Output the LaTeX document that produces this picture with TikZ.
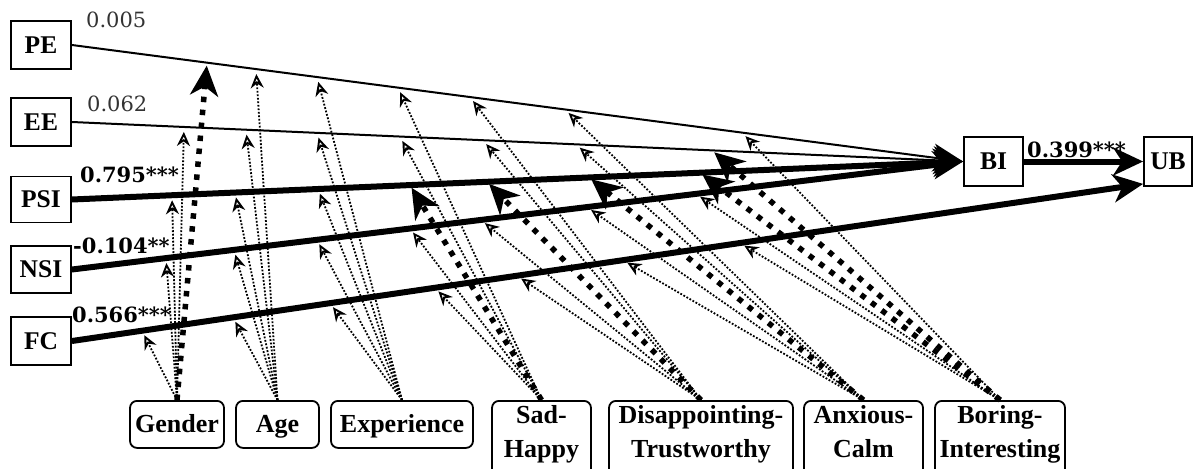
\documentclass[tikz,border=0pt]{standalone}
\usepackage{fontspec}
\setmainfont{Liberation Serif}
\newfontfamily\numfont{DejaVu Serif}
\usetikzlibrary{arrows.meta,calc}
\begin{document}
\begin{tikzpicture}[x=1pt,y=-1pt,
  box/.style={draw,fill=white,line width=1.8pt,inner sep=0pt,font=\bfseries\fontsize{25.5}{30}\selectfont},
  modbox/.style={draw,fill=white,line width=1.8pt,rounded corners=7pt,inner xsep=0pt,anchor=north,align=center,font=\bfseries\fontsize{26}{34}\selectfont},
  onebox/.style={modbox,inner ysep=11.5pt,text height=20pt,text depth=4pt},
  twobox/.style={modbox,inner ysep=5pt,text depth=55pt},
  mainthin/.style={line width=2pt,-{Stealth[length=30pt,width=28pt,inset=9pt]}},
  mainthick/.style={line width=6pt,-{Stealth[length=30pt,width=28pt,inset=9pt]}},
  modthin/.style={line width=1.8pt,dash pattern=on 1.8pt off 1.7pt,-{Stealth[open,length=14pt,width=13pt,inset=4.5pt,line width=1.9pt]},shorten >=5pt},
  modthick/.style={line width=5.5pt,dash pattern=on 5.5pt off 7.5pt,-{Stealth[length=30pt,width=28pt,inset=9pt]},shorten >=3pt},
  coef/.style={anchor=base west,inner sep=0pt,text=black!80,font=\numfont\fontsize{21}{24}\selectfont},
  coefb/.style={anchor=base west,inner sep=0pt,font=\numfont\bfseries\fontsize{21}{24}\selectfont},
]
\useasboundingbox (0,0) rectangle (1198,468);
\clip (0,0) rectangle (1198,468);

% construct boxes
\node[box,minimum width=60pt,minimum height=48pt] (PE) at (41,45) {PE};
\node[box,minimum width=60pt,minimum height=48pt] (EE) at (41,122) {EE};
\node[box,minimum width=60pt,minimum height=46pt] (PSI) at (41,199.5) {PSI};
\node[box,minimum width=60pt,minimum height=47pt] (NSI) at (41,269.5) {NSI};
\node[box,minimum width=60pt,minimum height=48pt] (FC) at (41,341) {FC};
\node[box,minimum width=59pt,minimum height=49pt] (BI) at (993.5,161.5) {BI};
\node[box,minimum width=48pt,minimum height=49pt] (UB) at (1168,161.5) {UB};

% moderator boxes
\node[onebox,minimum width=94pt] (Gender) at (177,400) {Gender};
\node[onebox,minimum width=83pt] (Age) at (277.5,400) {Age};
\node[onebox,minimum width=142pt] (Experience) at (402,400) {Experience};
\node[twobox,minimum width=99pt] (SadHappy) at (541.5,400) {Sad-\\Happy};
\node[twobox,minimum width=184pt] (DisTrust) at (701,400) {Disappointing-\\Trustworthy};
\node[twobox,minimum width=119pt] (AnxCalm) at (863.5,400) {Anxious-\\Calm};
\node[twobox,minimum width=130pt] (BorInt) at (1000,400) {Boring-\\Interesting};

% coefficients
\node[coef] (cPE) at (86,28) {0.005};
\node[coef] (cEE) at (87,112) {0.062};
\node[coefb] (cPSI) at (80,182) {0.795***};
\node[coefb] (cNSI) at (73,253) {-0.104**};
\node[coefb] (cFC) at (72,322) {0.566***};
\node[coefb] (cBI) at (1027,157) {0.399***};

% main paths
\coordinate (ubin) at ($(UB.south west)+(0,-3)$);
\draw[mainthin] (PE.east) -- (BI.west);
\draw[mainthin] (EE.east) -- (BI.west);
\draw[mainthick] (PSI.east) -- (BI.west);
\draw[mainthick] (NSI.east) -- (BI.west);
\draw[mainthick] (FC.east) -- (ubin);
\draw[mainthick] (BI.east) -- (UB.west);

% moderation targets on the paths
\foreach \m/\xx in {G/207,A/256,X/317,S/398,D/470,N/565,B/742}
  \coordinate (PE-\m) at (intersection cs: first line={(PE.east)--(BI.west)}, second line={(\xx,0)--(\xx,500)});
\foreach \m/\xx in {G/184,A/246,X/317,S/400,D/483,N/576,B/712}
  \coordinate (EE-\m) at (intersection cs: first line={(EE.east)--(BI.west)}, second line={(\xx,0)--(\xx,500)});
\foreach \m/\xx in {G/172,A/235,X/318,S/410,D/487,N/589,B/700}
  \coordinate (PSI-\m) at (intersection cs: first line={(PSI.east)--(BI.west)}, second line={(\xx,0)--(\xx,500)});
\foreach \m/\xx in {G/166,A/234,X/317,S/410,D/481,N/587,B/696}
  \coordinate (NSI-\m) at (intersection cs: first line={(NSI.east)--(BI.west)}, second line={(\xx,0)--(\xx,500)});
\foreach \m/\xx in {G/142,A/233,X/330,S/435,D/517,N/623,B/740}
  \coordinate (FC-\m) at (intersection cs: first line={(FC.east)--(ubin)}, second line={(\xx,0)--(\xx,500)});

% non-significant moderations
\foreach \m/\s in {A/Age,X/Experience,S/SadHappy,D/DisTrust,N/AnxCalm,B/BorInt}
  \draw[modthin] (\s.north) -- (PE-\m);
\foreach \m/\s in {G/Gender,A/Age,X/Experience,S/SadHappy,D/DisTrust,N/AnxCalm}
  \draw[modthin] (\s.north) -- (EE-\m);
\foreach \m/\s in {G/Gender,A/Age,X/Experience}
  \draw[modthin] (\s.north) -- (PSI-\m);
\foreach \m/\s in {G/Gender,A/Age,X/Experience,S/SadHappy,D/DisTrust,N/AnxCalm,B/BorInt}
  \draw[modthin] (\s.north) -- (NSI-\m);
\foreach \m/\s in {G/Gender,A/Age,X/Experience,S/SadHappy,D/DisTrust,N/AnxCalm,B/BorInt}
  \draw[modthin] (\s.north) -- (FC-\m);

% significant moderations
\draw[modthick] (Gender.north) -- (PE-G);
\draw[modthick] (BorInt.north) -- (EE-B);
\draw[modthick] (SadHappy.north) -- (PSI-S);
\draw[modthick] (DisTrust.north) -- (PSI-D);
\draw[modthick] (AnxCalm.north) -- (PSI-N);
\draw[modthick] (BorInt.north) -- (PSI-B);
\end{tikzpicture}
\end{document}
